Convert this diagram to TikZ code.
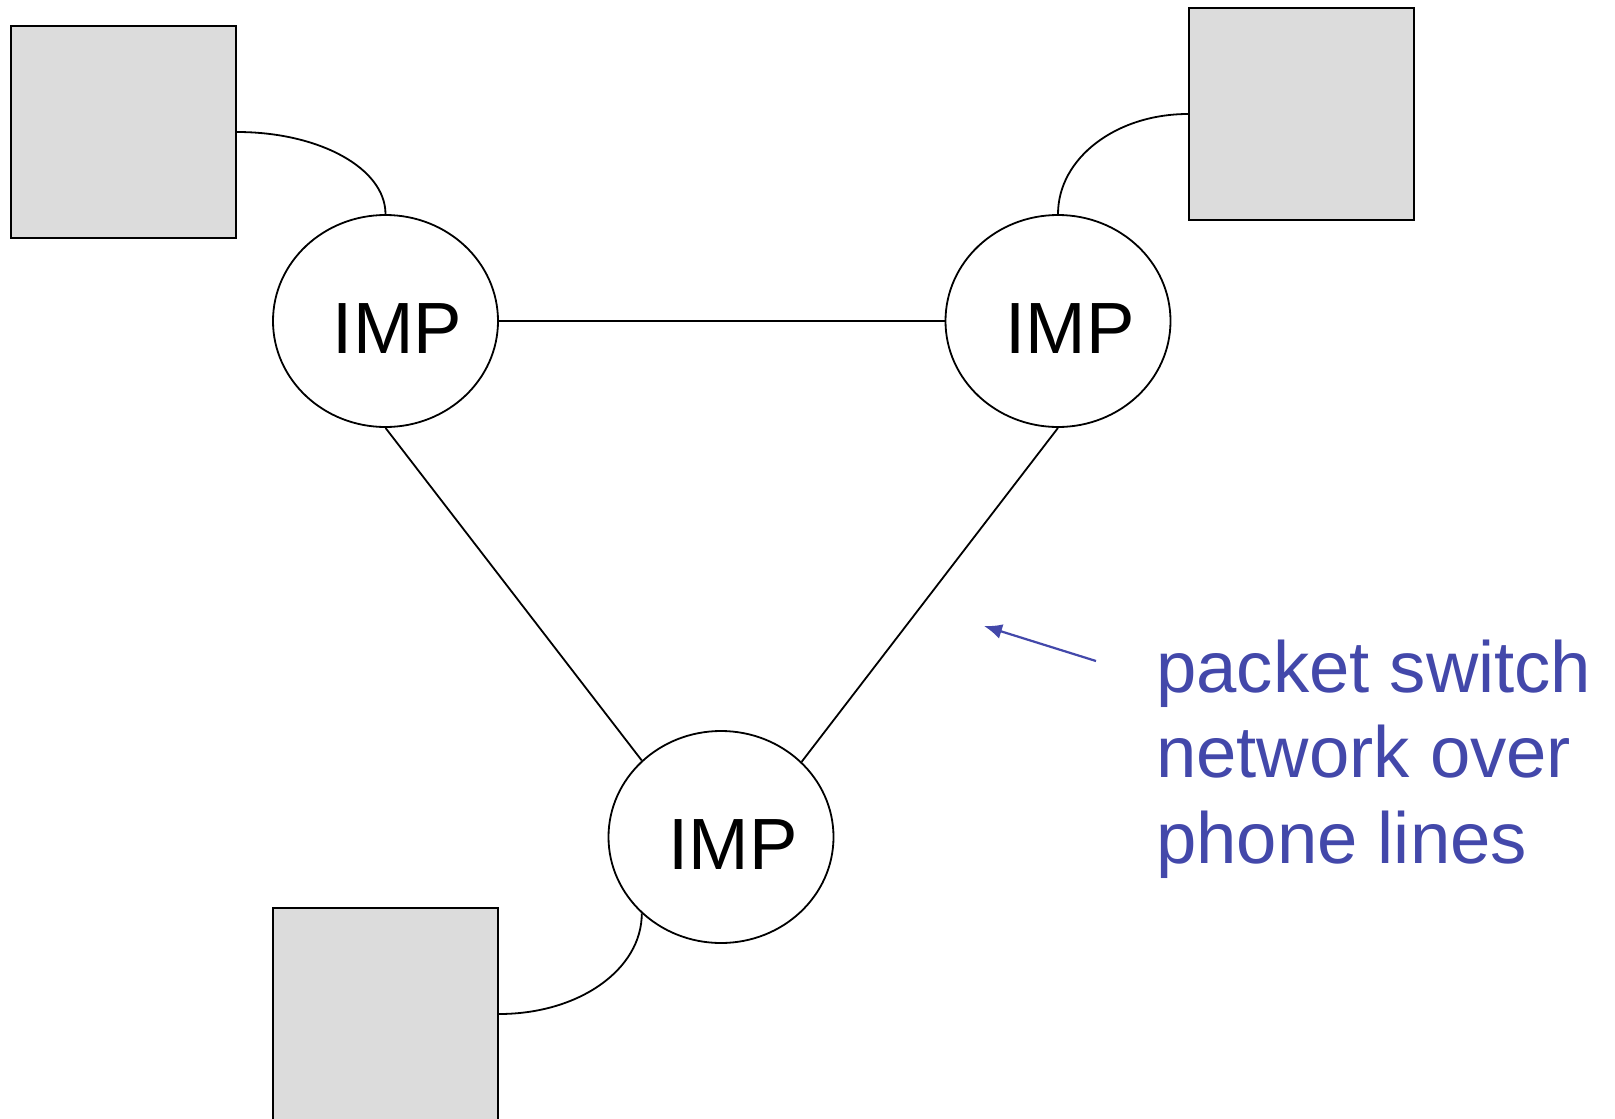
\documentclass[tikz,border=0pt]{standalone}
\usepackage{fontspec}
\setmainfont{Liberation Sans}
\newfontfamily\impfamily{Liberation Sans}
\newfontfamily\notefamily{Liberation Sans}
\usetikzlibrary{shapes.geometric,arrows.meta}
\definecolor{hostgray}{RGB}{220,220,220}
\definecolor{noteblue}{RGB}{67,72,170}
\tikzset{
  host/.style={draw, fill=hostgray, line width=2pt, minimum width=225pt,
    minimum height=212pt, inner sep=0pt},
  imp/.style={ellipse, draw, fill=white, line width=1.8pt, minimum width=225pt,
    minimum height=212pt, inner sep=0pt, text height=65pt, text depth=0pt,
    font=\impfamily\fontsize{72.6pt}{80pt}\selectfont},
  link/.style={line width=1.8pt},
  note/.style={text=noteblue, anchor=base west, inner sep=0pt,
    font=\notefamily\fontsize{72.5pt}{86pt}\selectfont},
}
\begin{document}
\begin{tikzpicture}[x=1pt, y=-1pt]
\useasboundingbox (0,0) rectangle (1615,1119);

% host computers
\node[host] (h1) at (123.5,132) {};
\node[host] (h2) at (1301.5,114) {};
\node[host] (h3) at (385.5,1014) {};

% interface message processors
\node[imp] (imp1) at (385.5,321) {\hspace*{24pt}IMP};
\node[imp] (imp2) at (1058,321) {\hspace*{24pt}IMP};
\node[imp] (imp3) at (721,837) {\hspace*{24pt}IMP};

% phone lines between IMPs
\draw[link] (imp1.east) -- (imp2.west);
\draw[link] (imp1.south) -- (imp3.136.5);
\draw[link] (imp2.south) -- (imp3.43);

% host attachments
\draw[link] (h1.east) .. controls +(82,0) and +(0,-46) .. (imp1.north);
\draw[link] (h2.west) .. controls +(-72,0) and +(0,-56) .. (imp2.north);
\draw[link] (h3.east) .. controls +(80,0) and +(0,56) .. (imp3.224);

% annotation
\coordinate (atail) at (1096,661);
\coordinate (ahead) at (984,626);
\draw[noteblue, line width=2.2pt, -{Latex[length=18pt,width=15pt]}] (atail) -- (ahead);
\node[note] (n1) at (1156,692) {packet switch};
\node[note] (n2) at (1156,777.5) {network over};
\node[note] (n3) at (1156,863) {phone lines};
\end{tikzpicture}
\end{document}
